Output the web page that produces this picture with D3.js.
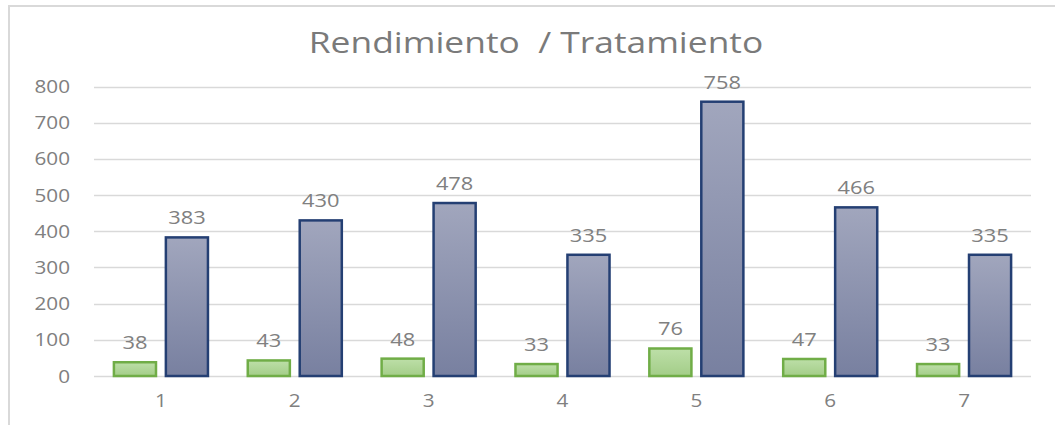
<!DOCTYPE html>
<html>
<head>
<meta charset="utf-8">
<script src="https://cdn.jsdelivr.net/npm/d3@7"></script>
<style>
  body { margin: 0; background: #fff; }
  text { font-family: "Open Sans", sans-serif; fill: #808080; }
</style>
</head>
<body>
<div id="chart-area"></div>
<script>
// data
var categories = ["1", "2", "3", "4", "5", "6", "7"];
var series = ["a", "b"];
var valuesA = [38, 43, 48, 33, 76, 47, 33];
var valuesB = [383, 430, 478, 335, 758, 466, 335];
var yTicks = [0, 100, 200, 300, 400, 500, 600, 700, 800];
var title = "Rendimiento  / Tratamiento";

// dimensions
var W = 1055, H = 425;
var plot = { left: 94, right: 1031, top: 86.5, bottom: 376 };
var stretch = 1.15; // text in the picture is a bit wide

var svg = d3.select("#chart-area")
  .append("svg")
    .attr("width", W)
    .attr("height", H);

// gradients
var defs = svg.append("defs");
function grad(id, c1, c2) {
  var g = defs.append("linearGradient")
    .attr("id", id)
    .attr("x1", 0).attr("y1", 0).attr("x2", 0).attr("y2", 1);
  g.append("stop").attr("offset", "0%").attr("stop-color", c1);
  g.append("stop").attr("offset", "100%").attr("stop-color", c2);
}
grad("gA", "#bddfa8", "#a3cd88");
grad("gB", "#a1a6bd", "#7880a0");

var fills = { a: "url(#gA)", b: "url(#gB)" };
var strokes = { a: "#70ad47", b: "#243f73" };

// outer frame
svg.append("rect")
  .attr("x", 9).attr("y", 6)
  .attr("width", 1200).attr("height", 600)
  .attr("fill", "none")
  .attr("stroke", "#d9d9d9")
  .attr("stroke-width", 2);

function wideText(sel, x, y, k) {
  return sel.attr("transform", "translate(" + x + "," + y + ") scale(" + (k || stretch) + ",1)");
}

// title
wideText(svg.append("text"), 536, 53, 1.22)
  .attr("text-anchor", "middle")
  .style("font-size", "29px")
  .style("white-space", "pre")
  .style("fill", "#7a7a7a")
  .text(title);

// scales
var y = d3.scaleLinear().domain([0, 800]).range([plot.bottom, plot.top]);
var x0 = d3.scaleBand().domain(categories).range([plot.left, plot.right]);
var x1 = d3.scaleBand().domain(series).range([0, x0.bandwidth()])
  .paddingInner(0.19).paddingOuter(0.383);

// gridlines
svg.append("g").selectAll("line")
  .data(yTicks)
  .enter().append("line")
    .attr("x1", plot.left).attr("x2", plot.right)
    .attr("y1", d => Math.round(y(d)) + 0.5)
    .attr("y2", d => Math.round(y(d)) + 0.5)
    .attr("stroke", "#d9d9d9")
    .attr("stroke-width", 1.5);

// y labels
svg.append("g").selectAll("text")
  .data(yTicks)
  .enter().append("text")
    .each(function(d) { wideText(d3.select(this), 70, y(d) + 6.5); })
    .attr("text-anchor", "end")
    .style("font-size", "18px")
    .text(d => d);

// x labels
svg.append("g").selectAll("text")
  .data(categories)
  .enter().append("text")
    .each(function(d) { wideText(d3.select(this), x0(d) + x0.bandwidth() / 2, 407); })
    .attr("text-anchor", "middle")
    .style("font-size", "18px")
    .text(d => d);

// bars
var rows = categories.map((c, i) => ({ cat: c, a: valuesA[i], b: valuesB[i] }));

var groups = svg.append("g").selectAll("g")
  .data(rows)
  .enter().append("g")
    .attr("transform", d => "translate(" + x0(d.cat) + ",0)");

groups.selectAll("rect")
  .data(d => series.map(s => ({ s: s, v: d[s] })))
  .enter().append("rect")
    .attr("x", d => x1(d.s))
    .attr("y", d => y(d.v))
    .attr("width", x1.bandwidth())
    .attr("height", d => plot.bottom - y(d.v))
    .attr("fill", d => fills[d.s])
    .attr("stroke", d => strokes[d.s])
    .attr("stroke-width", 2.5);

// value labels
groups.selectAll("text")
  .data(d => series.map(s => ({ s: s, v: d[s] })))
  .enter().append("text")
    .each(function(d) { wideText(d3.select(this), x1(d.s) + x1.bandwidth() / 2, y(d.v) - 13); })
    .attr("text-anchor", "middle")
    .style("font-size", "19px")
    .text(d => d.v);
</script>
</body>
</html>
